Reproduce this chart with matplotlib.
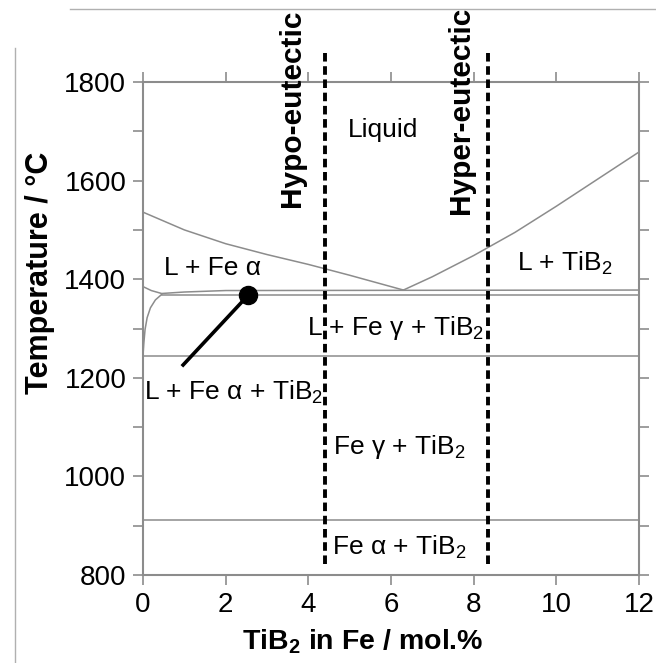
import matplotlib
matplotlib.use('Agg')
from matplotlib import pyplot as plt
from matplotlib.lines import Line2D

plt.rcParams['font.family'] = ['Liberation Sans', 'DejaVu Sans']
plt.rcParams['mathtext.fontset'] = 'custom'
plt.rcParams['mathtext.rm'] = 'Liberation Sans'
plt.rcParams['mathtext.bf'] = 'Liberation Sans:bold'

# phase boundaries (TiB2 mol.%, temperature in C)
liq_left_x = [0, 1, 2, 3, 4, 5, 6.3]
liq_left_t = [1536, 1500, 1472, 1450, 1430, 1408, 1378]
liq_right_x = [6.3, 7, 8, 9, 10, 11, 12]
liq_right_t = [1378, 1405, 1448, 1495, 1548, 1603, 1658]
delta_x = [0, 0.2, 0.45, 1.0, 2.0, 12]
delta_t = [1385, 1377, 1371, 1374, 1377, 1378]
eut_low_x = [0.45, 12]
eut_low_t = [1368, 1368]
solvus_x = [0.45, 0.3, 0.18, 0.1, 0.05, 0.02, 0]
solvus_t = [1369, 1358, 1342, 1322, 1298, 1270, 1245]
isotherm_t = [1245, 912]

# composition markers
comp_x = [4.4, 8.35]
comp_t = [1859, 814]
comp_labels = ['Hypo-eutectic', 'Hyper-eutectic']
comp_label_x = [3.6, 7.7]
comp_label_t = [1747, 1743]

# pointer to the small three-phase field
dot_x, dot_t = 2.55, 1368
ptr_x, ptr_t = 0.97, 1226

# region labels
regions = ['Liquid', 'L + TiB$_2$', 'L + Fe \u03b1', 'L + Fe \u03b1 + TiB$_2$',
           'L + Fe \u03b3 + TiB$_2$', 'Fe \u03b3 + TiB$_2$', 'Fe \u03b1 + TiB$_2$']
region_x = [5.8, 10.2, 1.67, 2.2, 6.1, 6.2, 6.2]
region_t = [1703, 1433, 1423, 1171, 1301, 1060, 857]

gray = '#8c8c8c'
fs = 19

fig = plt.figure(figsize=(6.56, 6.63), dpi=100)
ax = fig.add_axes([143/656, 1 - 575/663, 496/656, 493/663])

ax.plot(liq_left_x, liq_left_t, color=gray, lw=1.1)
ax.plot(liq_right_x, liq_right_t, color=gray, lw=1.1)
ax.plot(delta_x, delta_t, color=gray, lw=1.1)
ax.plot(eut_low_x, eut_low_t, color=gray, lw=1.1)
ax.plot(solvus_x, solvus_t, color=gray, lw=1.1)
for t in isotherm_t:
    ax.plot([0, 12], [t, t], color=gray, lw=1.1)

for x in comp_x:
    ax.plot([x, x], comp_t, color='black', lw=2.8, dashes=(2.2, 1.2),
            clip_on=False, zorder=5)
for lab, x, t in zip(comp_labels, comp_label_x, comp_label_t):
    ax.text(x, t, lab, rotation=90, ha='center', va='center', fontsize=21.5,
            fontweight='bold', clip_on=False)

ax.plot([dot_x, ptr_x], [dot_t, ptr_t], color='black', lw=2.6)
ax.plot(dot_x, dot_t, 'o', color='black', markersize=13)

for lab, x, t in zip(regions, region_x, region_t):
    ax.text(x, t, lab, ha='center', va='center', fontsize=fs)

ax.set_xlim(0, 12)
ax.set_ylim(800, 1800)
ax.set_xticks(range(0, 13, 2))
ax.set_yticks(range(800, 1801, 200))
ax.set_yticks(range(900, 1800, 200), minor=True)
ax.tick_params(which='both', direction='out', length=7, width=1.2, color=gray,
               labelsize=20, pad=5, top=True, right=True)
for s in ax.spines.values():
    s.set_color(gray)
    s.set_linewidth(1.5)

ax.set_xlabel('TiB$_\\mathbf{2}$ in Fe / mol.%', fontsize=20.5, fontweight='bold')
ax.xaxis.set_label_coords(0.444, -0.105)
ax.set_ylabel('Temperature / \u00b0C', fontsize=22, fontweight='bold')
ax.yaxis.set_label_coords(-0.178, 0.613)

# leftover frame edges of the original page
fig.add_artist(Line2D([70/656, 1], [1 - 9/663, 1 - 9/663], color='#b0b0b0', lw=1))
fig.add_artist(Line2D([15/656, 15/656], [0, 1 - 48/663], color='#b0b0b0', lw=1))

fig.savefig('out.png', dpi=100)
